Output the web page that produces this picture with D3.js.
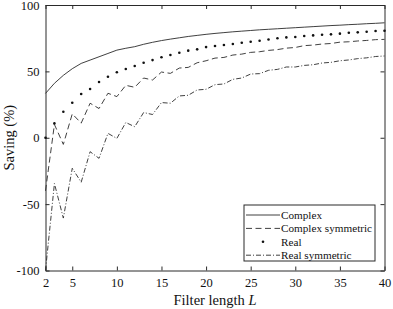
<!DOCTYPE html>
<html>
<head>
<meta charset="utf-8">
<script src="https://cdn.jsdelivr.net/npm/d3@7"></script>
<style>
  body { margin: 0; background: #fff; }
  svg { display: block; font-family: "Liberation Serif", "Times New Roman", serif; }
</style>
</head>
<body>
<div id="chart"></div>
<script>
// filter lengths
var lengths = d3.range(2, 41);

var complexVals = [33.4, 41, 47, 52, 56, 58.5, 61, 63.5, 66, 67.4, 68.6, 70.4, 71.9, 73.2, 74.3, 75.3, 76.3, 77.1, 77.9, 78.6,
  79.2, 79.8, 80.3, 80.8, 81.3, 81.7, 82.1, 82.5, 82.9, 83.3, 83.7, 84.1, 84.5, 84.8, 85.2, 85.5, 85.9, 86.2, 86.6];
var complexSymVals = [-40, 10, -5, 18, 11, 26, 22, 33.5, 31, 39.5, 38, 45, 43.5, 49.5, 48.5, 52.5, 53, 56.5, 58, 60,
  60.5, 62.3, 63, 64.3, 64.8, 65.8, 66.4, 67.5, 68, 69.4, 69.8, 70.6, 71, 72, 72.3, 72.9, 73.3, 73.9, 74.1];
var realVals = [0, 10.8, 19.6, 26.4, 33, 36.7, 42, 46, 49.3, 51.8, 54, 56.5, 58.5, 60.6, 62.3, 64, 65.6, 66.6, 68.3, 69.1,
  69.9, 70.6, 71.6, 72.3, 73.1, 74, 74.9, 75.6, 75.9, 76.6, 77.1, 77.6, 77.9, 78.4, 79.1, 79.4, 79.9, 80.4, 80.6];
var realSymVals = [-100, -34.5, -60.5, -23, -33.5, -10.5, -15.5, 3.3, -0.5, 11.5, 8.3, 19, 17.5, 26.5, 26, 31.5, 32, 36, 36.5, 40,
  40.5, 44, 45, 48, 48.3, 50.8, 51.5, 53.3, 53.3, 54.5, 55, 56.3, 56.8, 58, 58.6, 59.6, 60.2, 61.2, 61.6];

var xTicks = [2, 5, 10, 15, 20, 25, 30, 35, 40];
var yTicks = [-100, -50, 0, 50, 100];
var legendNames = ["Complex", "Complex symmetric", "Real", "Real symmetric"];

var margin = {top: 5, right: 8.5, bottom: 38.5, left: 45.5},
  width = 393 - margin.left - margin.right,
  height = 309 - margin.top - margin.bottom;

var x = d3.scaleLinear().domain([2, 40]).range([0, width]);
var y = d3.scaleLinear().domain([-100, 100]).range([height, 0]);

var svg = d3.select("#chart").append("svg")
  .attr("width", 393)
  .attr("height", 309)
  .append("g")
  .attr("transform", "translate(" + margin.left + "," + margin.top + ")");

var ink = "#2a2a2a";

// axes, ticks pointing inward
var fmt = function (d) { return String(d); };

svg.append("g")
  .attr("transform", "translate(0," + height + ")")
  .call(d3.axisBottom(x).tickValues(xTicks).tickSizeInner(-4).tickSizeOuter(0).tickPadding(8).tickFormat(fmt));
svg.append("g")
  .call(d3.axisTop(x).tickValues(xTicks).tickSizeInner(-4).tickSizeOuter(0).tickFormat(""));
svg.append("g")
  .call(d3.axisLeft(y).tickValues(yTicks).tickSizeInner(-4).tickSizeOuter(0).tickPadding(6).tickFormat(fmt));
svg.append("g")
  .attr("transform", "translate(" + width + ",0)")
  .call(d3.axisRight(y).tickValues(yTicks).tickSizeInner(-4).tickSizeOuter(0).tickFormat(""));

svg.selectAll(".domain, .tick line").attr("stroke", ink).attr("stroke-width", 1);
svg.selectAll(".tick text")
  .attr("font-family", "Liberation Serif")
  .attr("font-size", 12.5)
  .attr("fill", "#111");

// axis titles
svg.append("text")
  .attr("x", width / 2)
  .attr("y", height + 34)
  .attr("text-anchor", "middle")
  .attr("font-size", 14.5)
  .attr("fill", "#111")
  .text("Filter length ")
  .append("tspan")
  .attr("font-style", "italic")
  .text("L");

svg.append("text")
  .attr("transform", "rotate(-90)")
  .attr("x", -height / 2)
  .attr("y", -margin.left + 14)
  .attr("text-anchor", "middle")
  .attr("font-size", 14.5)
  .attr("fill", "#111")
  .text("Saving (%)");

// lines
var line = function (vals) {
  return d3.line()
    .x(function (d, i) { return x(lengths[i]); })
    .y(function (d) { return y(d); })(vals);
};

svg.append("path")
  .attr("d", line(complexVals))
  .attr("fill", "none")
  .attr("stroke", ink)
  .attr("stroke-width", 0.9);

svg.append("path")
  .attr("d", line(complexSymVals))
  .attr("fill", "none")
  .attr("stroke", ink)
  .attr("stroke-width", 0.9)
  .attr("stroke-dasharray", "6,3.5");

svg.append("path")
  .attr("d", line(realSymVals))
  .attr("fill", "none")
  .attr("stroke", ink)
  .attr("stroke-width", 0.9)
  .attr("stroke-dasharray", "5,2,1,2");

svg.selectAll(".dot")
  .data(realVals)
  .enter().append("circle")
  .attr("class", "dot")
  .attr("cx", function (d, i) { return x(lengths[i]); })
  .attr("cy", function (d) { return y(d); })
  .attr("r", 1.3)
  .attr("fill", "#111");

// legend
var lg = svg.append("g").attr("transform", "translate(" + (244 - margin.left) + "," + (205 - margin.top) + ")");
lg.append("rect")
  .attr("width", 131)
  .attr("height", 56)
  .attr("fill", "#fff")
  .attr("stroke", ink)
  .attr("stroke-width", 1);

var dashes = [null, "6,3.5", null, "5,2,1,2"];
legendNames.forEach(function (name, i) {
  var ly = 10 + i * 13.4;
  if (i === 2) {
    lg.append("circle").attr("cx", 19).attr("cy", ly).attr("r", 1.3).attr("fill", "#111");
  } else {
    lg.append("line")
      .attr("x1", 2).attr("x2", 36)
      .attr("y1", ly).attr("y2", ly)
      .attr("stroke", ink)
      .attr("stroke-width", 0.9)
      .attr("stroke-dasharray", dashes[i]);
  }
  lg.append("text")
    .attr("x", 37)
    .attr("y", ly + 3.8)
    .attr("font-size", 11.2)
    .attr("fill", "#111")
    .text(name);
});
</script>
</body>
</html>
